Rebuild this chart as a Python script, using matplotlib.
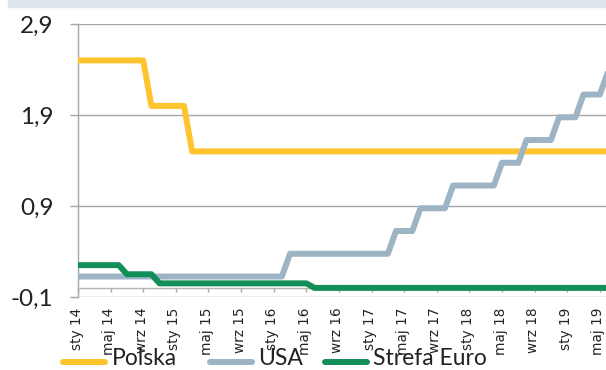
import matplotlib.pyplot as plt
import matplotlib.transforms as mtransforms
import numpy as np
from matplotlib.lines import Line2D
from matplotlib.patches import Rectangle

plt.rcParams['font.family'] = ['Lato', 'DejaVu Sans']

W, H = 606, 370

# monthly values, Jan 2014 - Jun 2019
tick_labels = ['sty 14', 'maj 14', 'wrz 14', 'sty 15', 'maj 15', 'wrz 15',
               'sty 16', 'maj 16', 'wrz 16', 'sty 17', 'maj 17', 'wrz 17',
               'sty 18', 'maj 18', 'wrz 18', 'sty 19', 'maj 19']

polska = [2.5, 2.5, 2.5, 2.5, 2.5, 2.5, 2.5, 2.5, 2.5, 2.0, 2.0, 2.0,
          2.0, 2.0, 1.5, 1.5, 1.5, 1.5, 1.5, 1.5, 1.5, 1.5, 1.5, 1.5,
          1.5, 1.5, 1.5, 1.5, 1.5, 1.5, 1.5, 1.5, 1.5, 1.5, 1.5, 1.5,
          1.5, 1.5, 1.5, 1.5, 1.5, 1.5, 1.5, 1.5, 1.5, 1.5, 1.5, 1.5,
          1.5, 1.5, 1.5, 1.5, 1.5, 1.5, 1.5, 1.5, 1.5, 1.5, 1.5, 1.5,
          1.5, 1.5, 1.5, 1.5, 1.5, 1.5]

usa = [0.125, 0.125, 0.125, 0.125, 0.125, 0.125, 0.125, 0.125, 0.125, 0.125, 0.125, 0.125,
       0.125, 0.125, 0.125, 0.125, 0.125, 0.125, 0.125, 0.125, 0.125, 0.125, 0.125, 0.125,
       0.125, 0.125, 0.375, 0.375, 0.375, 0.375, 0.375, 0.375, 0.375, 0.375, 0.375, 0.375,
       0.375, 0.375, 0.375, 0.625, 0.625, 0.625, 0.875, 0.875, 0.875, 0.875, 1.125, 1.125,
       1.125, 1.125, 1.125, 1.125, 1.375, 1.375, 1.375, 1.625, 1.625, 1.625, 1.625, 1.875,
       1.875, 1.875, 2.125, 2.125, 2.125, 2.375]

strefa_euro = [0.25, 0.25, 0.25, 0.25, 0.25, 0.25, 0.15, 0.15, 0.15, 0.15, 0.05, 0.05,
               0.05, 0.05, 0.05, 0.05, 0.05, 0.05, 0.05, 0.05, 0.05, 0.05, 0.05, 0.05,
               0.05, 0.05, 0.05, 0.05, 0.05, 0.0, 0.0, 0.0, 0.0, 0.0, 0.0, 0.0,
               0.0, 0.0, 0.0, 0.0, 0.0, 0.0, 0.0, 0.0, 0.0, 0.0, 0.0, 0.0,
               0.0, 0.0, 0.0, 0.0, 0.0, 0.0, 0.0, 0.0, 0.0, 0.0, 0.0, 0.0,
               0.0, 0.0, 0.0, 0.0, 0.0, 0.0]

yticks = [-0.1, 0.9, 1.9, 2.9]

series = [('Polska', polska, '#fec42d'),
          ('USA', usa, '#9cb4c4'),
          ('Strefa Euro', strefa_euro, '#128e58')]

GRID = '#a6a6a6'
TEXT = '#222222'
LW = 4.3

fig = plt.figure(figsize=(W / 100, H / 100), dpi=100)

# thin band along the top edge
fig.patches.append(Rectangle((8 / W, 363 / H), (W - 8) / W, 7 / H,
                             transform=fig.transFigure, color='#dde5ec', zorder=0))

ax = fig.add_axes([78 / W, (H - 297) / H, 530 / W, 273 / H])

x = np.arange(len(polska))
for z, (name, vals, col) in enumerate(series):
    ax.plot(x, vals, color=col, lw=LW, solid_joinstyle='round', label=name, zorder=3 + z)

ax.set_xlim(0, len(polska) - 1)
ax.set_ylim(-0.1, 2.9)

ax.set_yticks(yticks)
ax.set_yticklabels([f'{v:.1f}'.replace('.', ',') for v in yticks])
ax.grid(axis='y', color=GRID, lw=1.0)
ax.set_axisbelow(True)

for s in ['top', 'right']:
    ax.spines[s].set_visible(False)
ax.spines['left'].set_color(GRID)
ax.spines['left'].set_linewidth(1.0)
ax.spines['bottom'].set_position(('data', 0))
ax.spines['bottom'].set_color('#b4b4b4')
ax.spines['bottom'].set_linewidth(1.0)

ax.tick_params(axis='y', length=5.8, width=1.0, color=GRID, pad=12,
               labelsize=17.5, labelcolor=TEXT)

ax.set_xticks(x[::4])
ax.set_xticklabels(tick_labels, rotation=90, ha='center', va='top',
                   fontfamily='DejaVu Sans')
ax.tick_params(axis='x', length=3, width=1.0, color=GRID, pad=11,
               labelsize=9.8, labelcolor=TEXT)
shift = mtransforms.ScaledTranslation(-1.5 / 100, 0, fig.dpi_scale_trans)
for lab in ax.get_xticklabels():
    lab.set_transform(lab.get_transform() + shift)

# legend row along the bottom, in pixel positions
legend_x = [(63, 105, 112), (210, 252, 258), (325, 367, 373)]
for (x0, x1, tx), (name, vals, col) in zip(legend_x, series):
    fig.add_artist(Line2D([x0 / W, x1 / W], [1 - 362 / H, 1 - 362 / H],
                          transform=fig.transFigure, color=col, lw=LW,
                          solid_capstyle='round'))
    fig.text(tx / W, 1 - 365 / H, name, fontsize=16.5, color=TEXT,
             ha='left', va='baseline')

fig.savefig('out.png', dpi=100)
